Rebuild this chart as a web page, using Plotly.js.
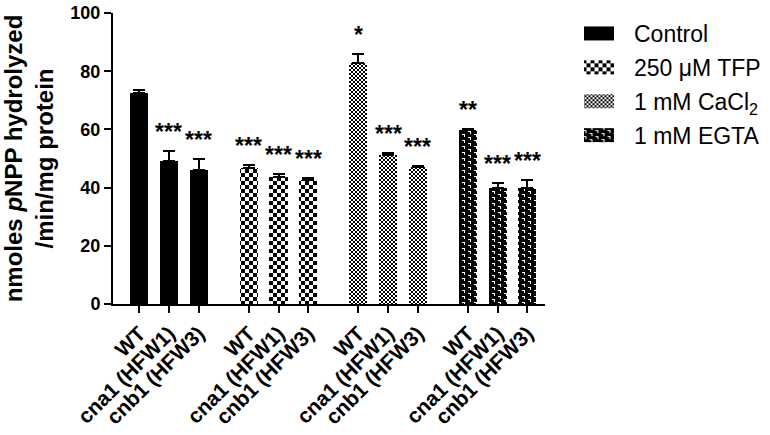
<!DOCTYPE html>
<html>
<head>
<meta charset="utf-8">
<script src="https://cdn.plot.ly/plotly-3.0.1.min.js"></script>
<style>
  html, body { margin: 0; padding: 0; background: #fff; }
  #chart { width: 770px; height: 435px; }
</style>
</head>
<body>
<div id="chart"></div>
<script>
'use strict'

// data

const genotypes = ['WT', 'cna1 (HFW1)', 'cnb1 (HFW3)']
const treatments = ['Control', '250 μM TFP', '1 mM CaCl<sub>2</sub>', '1 mM EGTA']
const uids = ['ctrl', 'tfp', 'cacl', 'egta']

const control = [72.5, 49.1, 46.0]
const controlErr = [1.2, 3.5, 3.7]
const tfp = [46.6, 43.8, 42.6]
const tfpErr = [1.2, 0.8, 0.8]
const cacl2 = [82.7, 51.2, 47.2]
const cacl2Err = [3.2, 0.6, 0.3]
const egta = [59.8, 39.7, 39.7]
const egtaErr = [0.5, 1.8, 2.9]

const controlStars = ['', '***', '***']
const tfpStars = ['***', '***', '***']
const cacl2Stars = ['*', '***', '***']
const egtaStars = ['**', '***', '***']

///////////////////////////////////////////////////////

const values = [control, tfp, cacl2, egta]
const errors = [controlErr, tfpErr, cacl2Err, egtaErr]
const stars = [controlStars, tfpStars, cacl2Stars, egtaStars]

const font = 'Arial, "Liberation Sans", sans-serif'
const groupStep = 3.7

const xpos = g => genotypes.map((_, i) => g * groupStep + i)

const traces = treatments.map((name, g) => {
  let trace = {
    type: 'bar',
    name: name,
    uid: uids[g],
    legendgroup: uids[g],
    x: xpos(g),
    y: values[g],
    width: 0.61,
    marker: { color: '#000', line: { width: 0 } },
    error_y: {
      type: 'data',
      symmetric: false,
      array: errors[g],
      arrayminus: errors[g].map(() => 0),
      color: '#000',
      thickness: 2,
      width: 6
    }
  }
  if (g > 0)
    trace.marker.pattern = { shape: '.', bgcolor: '#fff', fgcolor: '#000', size: 8, solidity: 0.5, fillmode: 'replace' }
  return trace
})

const annotations = []
treatments.forEach((_, g) => {
  xpos(g).forEach((x, i) => {
    if (!stars[g][i]) return
    annotations.push({
      x: x,
      y: values[g][i] + errors[g][i],
      text: stars[g][i],
      showarrow: false,
      yanchor: 'bottom',
      yshift: 4,
      font: { family: font, size: 23, color: '#000', weight: 'bold' }
    })
  })
})

const tickvals = [].concat(...treatments.map((_, g) => xpos(g)))
const ticktext = [].concat(...treatments.map(() => genotypes))

const layout = {
  width: 770,
  height: 435,
  margin: { l: 113, r: 225, t: 13, b: 131 },
  paper_bgcolor: '#fff',
  plot_bgcolor: '#fff',
  font: { family: font, color: '#000' },
  bargap: 0,
  showlegend: true,
  legend: {
    xref: 'container',
    yref: 'container',
    x: 579 / 770,
    y: 1 - 12 / 435,
    xanchor: 'left',
    yanchor: 'top',
    itemwidth: 45,
    tracegroupgap: 1,
    font: { family: font, size: 23, color: '#000' }
  },
  xaxis: {
    range: [-0.89, 13.7],
    showgrid: false,
    zeroline: false,
    showline: true,
    linecolor: '#000',
    linewidth: 2,
    ticks: 'outside',
    ticklen: 7,
    tickwidth: 2,
    tickcolor: '#000',
    tickmode: 'array',
    tickvals: tickvals,
    ticktext: ticktext,
    tickangle: -45,
    tickfont: { family: font, size: 21, color: '#000', weight: 'bold' }
  },
  yaxis: {
    range: [0, 100],
    showgrid: false,
    zeroline: false,
    showline: true,
    linecolor: '#000',
    linewidth: 2,
    ticks: 'outside',
    ticklen: 7,
    tickwidth: 2,
    tickcolor: '#000',
    tickvals: [0, 20, 40, 60, 80, 100],
    tickfont: { family: font, size: 18, color: '#000', weight: 'bold' },
    title: {
      text: 'nmoles <i>p</i>NPP hydrolyzed<br>/min/mg protein',
      standoff: 10,
      font: { family: font, size: 24, color: '#000', weight: 'bold' }
    }
  },
  annotations: annotations
}

// tiles for the GraphPad style fills (plotly has no checkerboard)

const tiles = {
  tfp: { w: 8, h: 8, bg: '#fff', fg: '#000', rects: [[0, 0, 4, 4], [4, 4, 4, 4]] },
  cacl: { w: 4, h: 4, bg: '#fff', fg: '#000', rects: [[0, 0, 2, 2], [2, 2, 2, 2]] },
  egta: { w: 12, h: 6, bg: '#000', fg: '#fff', rects: [[1, 1, 3, 1], [3, 1, 1, 3], [7, 4, 3, 1], [9, 4, 1, 2], [9, 0, 1, 1]] }
}

const fixPatterns = gd => {
  const ns = 'http://www.w3.org/2000/svg'
  for (let key of Object.keys(tiles)) {
    let t = tiles[key]
    gd.querySelectorAll(`pattern[id*="-${key}"]`).forEach(p => {
      p.setAttribute('width', t.w)
      p.setAttribute('height', t.h)
      p.removeAttribute('patternTransform')
      while (p.firstChild) p.removeChild(p.firstChild)
      let bg = document.createElementNS(ns, 'rect')
      bg.setAttribute('width', t.w)
      bg.setAttribute('height', t.h)
      bg.setAttribute('fill', t.bg)
      p.appendChild(bg)
      for (let [x, y, w, h] of t.rects) {
        let r = document.createElementNS(ns, 'rect')
        r.setAttribute('x', x)
        r.setAttribute('y', y)
        r.setAttribute('width', w)
        r.setAttribute('height', h)
        r.setAttribute('fill', t.fg)
        p.appendChild(r)
      }
    })
  }
  // wide legend swatches like the original (symbol centre sits at itemwidth / 2 + 5)
  gd.querySelectorAll('g.legendpoints path').forEach(p => p.setAttribute('d', 'M7.5,7H-22.5V-7H7.5Z'))
}

Plotly.newPlot('chart', traces, layout, { staticPlot: true }).then(gd => {
  fixPatterns(gd)
  setTimeout(() => fixPatterns(gd), 50)
})
</script>
</body>
</html>
